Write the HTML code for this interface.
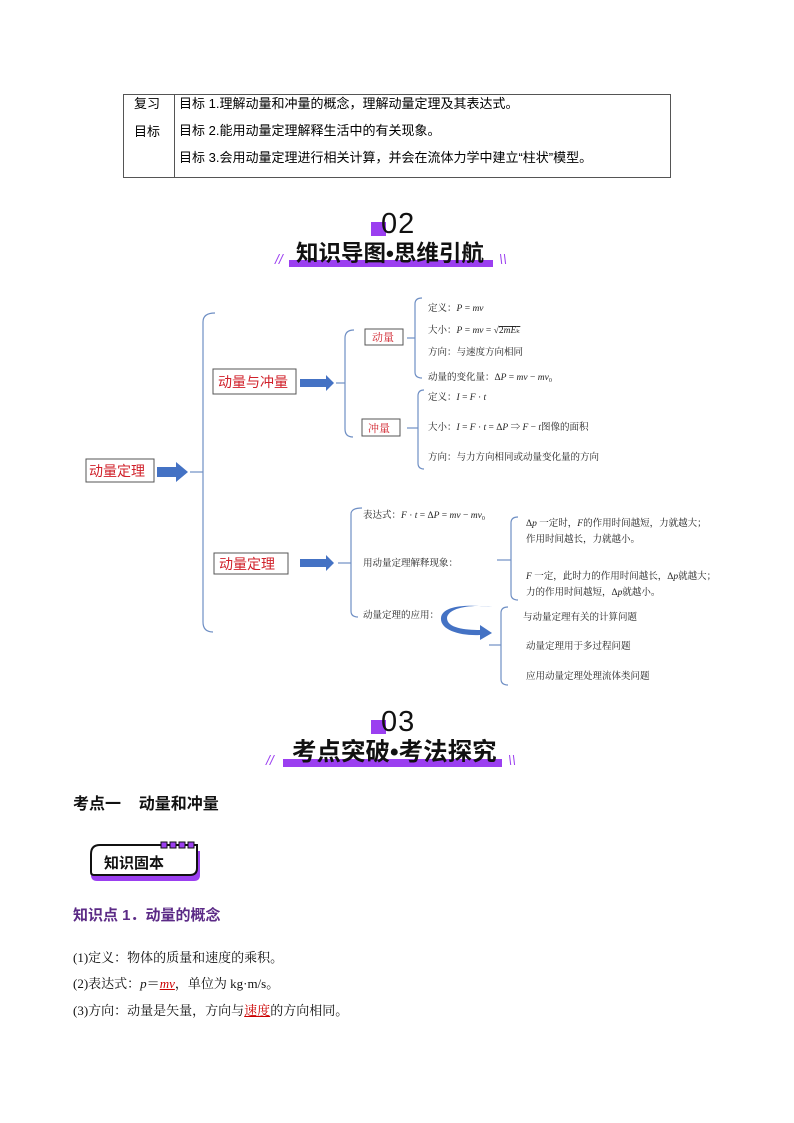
<!DOCTYPE html>
<html><head><meta charset="utf-8"><style>
html,body{margin:0;padding:0;background:#fff;}
body{width:794px;height:1123px;position:relative;overflow:hidden;font-family:"Liberation Serif","Noto Serif CJK SC",serif;}
.a{position:absolute;white-space:nowrap;}
.s{font-family:"Liberation Sans","Noto Sans CJK SC",sans-serif;}
</style></head><body>
<!-- table -->
<div class="a" style="left:123px;top:94px;width:546px;height:82px;border:1px solid #555;"></div>
<div class="a" style="left:174px;top:94px;width:1px;height:84px;background:#555;"></div>
<div class="a s" style="left:134px;top:96px;font-size:13px;line-height:16px;">复习</div>
<div class="a s" style="left:134px;top:124px;font-size:13px;line-height:16px;">目标</div>
<div class="a s" style="left:179px;top:96px;font-size:13px;line-height:16px;">目标 1.理解动量和冲量的概念，理解动量定理及其表达式。</div>
<div class="a s" style="left:179px;top:123px;font-size:13px;line-height:16px;">目标 2.能用动量定理解释生活中的有关现象。</div>
<div class="a s" style="left:179px;top:150px;font-size:13px;line-height:16px;">目标 3.会用动量定理进行相关计算，并会在流体力学中建立“柱状”模型。</div>

<!-- heading 02 -->
<div class="a" style="left:371px;top:222px;width:15px;height:14px;background:#9b3ff0;"></div>
<div class="a s" style="left:381px;top:208px;font-size:29px;line-height:32px;color:#111;letter-spacing:1px;">02</div>
<div class="a" style="left:289px;top:260px;width:204px;height:7px;background:#9b3ff0;"></div>
<div class="a s" style="left:296px;top:241px;font-size:22.5px;line-height:26px;font-weight:bold;color:#111;">知识导图•思维引航</div>
<div class="a s" style="left:275px;top:251px;font-size:14px;color:#9b3ff0;font-style:italic;">//</div>
<div class="a s" style="left:499px;top:251px;font-size:14px;color:#9b3ff0;font-style:italic;">\\</div>

<!-- mind map -->
<svg class="a" style="left:0;top:0" width="794" height="700" xmlns="http://www.w3.org/2000/svg">
<g fill="none" stroke="#6f8fc4" stroke-width="1.2">
<path d="M215 313 Q203 313 203 322 V622 Q203 632 213 632"/><path d="M190 472 H203"/>
<path d="M354 330 Q345 330 345 338 V429 Q345 437 353 437"/><path d="M336 383 H345"/>
<path d="M422 298 Q415 298 415 304 V372 Q415 378 422 378"/><path d="M407 338 H415"/>
<path d="M424 390 Q418 390 418 396 V463 Q418 469 424 469"/><path d="M407 428 H418"/>
<path d="M362 508 Q351 508 351 514 V611 Q351 617 358 617"/><path d="M338 563 H351"/>
<path d="M518 517 Q511 517 511 523 V594 Q511 600 518 600"/><path d="M497 560 H511"/>
<path d="M508 607 Q501 607 501 613 V679 Q501 685 508 685"/><path d="M489 645 H501"/>
</g>
<g fill="#fff" stroke="#555" stroke-width="1">
<rect x="86" y="459" width="68" height="23"/>
<rect x="213" y="369" width="83" height="25"/>
<rect x="365" y="329" width="38" height="16"/>
<rect x="362" y="419" width="38" height="17"/>
<rect x="214" y="553" width="74" height="21"/>
</g>
<g fill="#4472c4">
<path d="M157 467 H176 V462 L188 472 L176 482 V477 H157Z"/>
<path d="M300 379 H326 V375 L334 383 L326 391 V387 H300Z"/>
<path d="M300 559 H326 V555 L334 563 L326 571 V567 H300Z"/>
<path d="M492 607 C470 604 448 608 447 618 C447 628 465 630 480 630 L480 625 L492 633 L480 640 L480 635 C460 636 440 630 441 618 C442 606 465 604 492 607Z"/>
</g>
<g font-family="Liberation Sans,Noto Sans CJK SC,sans-serif" fill="#d0202a">
<text x="89" y="476" font-size="14">动量定理</text>
<text x="218" y="387" font-size="14">动量与冲量</text>
<text x="219" y="569" font-size="14">动量定理</text>
</g>
<g font-family="Liberation Serif,Noto Serif CJK SC,serif" fill="#d0202a" font-size="11">
<text x="372" y="341">动量</text>
<text x="368" y="432">冲量</text>
</g>
<g font-family="Liberation Serif,Noto Serif CJK SC,serif" fill="#222" font-size="9.5">
<text x="428" y="311">定义：<tspan font-style="italic">P</tspan> = <tspan font-style="italic">mv</tspan></text>
<text x="428" y="333">大小：<tspan font-style="italic">P</tspan> = <tspan font-style="italic">mv</tspan> = √<tspan text-decoration="overline">2<tspan font-style="italic">mE</tspan>ₖ</tspan></text>
<text x="428" y="355">方向：与速度方向相同</text>
<text x="428" y="380">动量的变化量：Δ<tspan font-style="italic">P</tspan> = <tspan font-style="italic">mv</tspan> − <tspan font-style="italic">mv</tspan>₀</text>
<text x="428" y="400">定义：<tspan font-style="italic">I</tspan> = <tspan font-style="italic">F</tspan> · <tspan font-style="italic">t</tspan></text>
<text x="428" y="430">大小：<tspan font-style="italic">I</tspan> = <tspan font-style="italic">F</tspan> · <tspan font-style="italic">t</tspan> = Δ<tspan font-style="italic">P</tspan> ⇒ <tspan font-style="italic">F</tspan> − <tspan font-style="italic">t</tspan>图像的面积</text>
<text x="428" y="460">方向：与力方向相同或动量变化量的方向</text>
<text x="363" y="518">表达式：<tspan font-style="italic">F</tspan> · <tspan font-style="italic">t</tspan> = Δ<tspan font-style="italic">P</tspan> = <tspan font-style="italic">mv</tspan> − <tspan font-style="italic">mv</tspan>₀</text>
<text x="363" y="566">用动量定理解释现象：</text>
<text x="363" y="618">动量定理的应用：</text>
<text x="526" y="526">Δ<tspan font-style="italic">p</tspan> 一定时，<tspan font-style="italic">F</tspan>的作用时间越短，力就越大；</text>
<text x="526" y="542">作用时间越长，力就越小。</text>
<text x="526" y="579"><tspan font-style="italic">F</tspan> 一定，此时力的作用时间越长，Δ<tspan font-style="italic">p</tspan>就越大；</text>
<text x="526" y="595">力的作用时间越短，Δ<tspan font-style="italic">p</tspan>就越小。</text>
<text x="523" y="620">与动量定理有关的计算问题</text>
<text x="526" y="649">动量定理用于多过程问题</text>
<text x="526" y="679">应用动量定理处理流体类问题</text>
</g>
</svg>

<!-- heading 03 -->
<div class="a" style="left:371px;top:720px;width:15px;height:14px;background:#9b3ff0;"></div>
<div class="a s" style="left:381px;top:706px;font-size:29px;line-height:32px;color:#111;letter-spacing:1px;">03</div>
<div class="a" style="left:283px;top:759px;width:219px;height:8px;background:#9b3ff0;"></div>
<div class="a s" style="left:292px;top:739px;font-size:24.5px;line-height:28px;font-weight:bold;color:#111;">考点突破•考法探究</div>
<div class="a s" style="left:266px;top:752px;font-size:14px;color:#9b3ff0;font-style:italic;">//</div>
<div class="a s" style="left:508px;top:752px;font-size:14px;color:#9b3ff0;font-style:italic;">\\</div>

<div class="a s" style="left:73px;top:795px;font-size:16px;line-height:20px;font-weight:bold;color:#111;">考点一&nbsp;&nbsp;&nbsp;&nbsp;动量和冲量</div>

<!-- badge -->
<svg class="a" style="left:85px;top:838px" width="125" height="50" xmlns="http://www.w3.org/2000/svg">
<path d="M13 13 H115 V37 Q115 43 109 43 H12 Q6 43 6 37 V20 Q6 13 13 13Z" fill="#9b3ff0"/>
<path d="M15 7 H112 V30 Q112 37 105 37 H9 Q6 37 6 34 V16 Q6 7 15 7Z" fill="#fff" stroke="#111" stroke-width="2"/>
<g fill="#9b3ff0" stroke="#111" stroke-width="1"><rect x="76" y="4" width="6" height="6"/><rect x="85" y="4" width="6" height="6"/><rect x="94" y="4" width="6" height="6"/><rect x="103" y="4" width="6" height="6"/></g>
<text x="19" y="30" font-family="Liberation Sans,Noto Sans CJK SC,sans-serif" font-size="15" font-weight="bold" fill="#111">知识固本</text>
</svg>

<div class="a" style="left:73px;top:906px;font-size:15px;line-height:20px;font-weight:bold;color:#5b2a86;font-family:'Liberation Sans','Noto Sans CJK SC',sans-serif;">知识点 1．动量的概念</div>
<div class="a" style="left:73px;top:949px;font-size:13px;line-height:18px;color:#111;">(1)定义：物体的质量和速度的乘积。</div>
<div class="a" style="left:73px;top:975px;font-size:13px;line-height:18px;color:#111;">(2)表达式：<i>p</i>＝<i style="color:#c00;text-decoration:underline;">mv</i>，单位为 kg·m/s。</div>
<div class="a" style="left:73px;top:1002px;font-size:13px;line-height:18px;color:#111;">(3)方向：动量是矢量，方向与<span style="color:#c00;text-decoration:underline;">速度</span>的方向相同。</div>
</body></html>
